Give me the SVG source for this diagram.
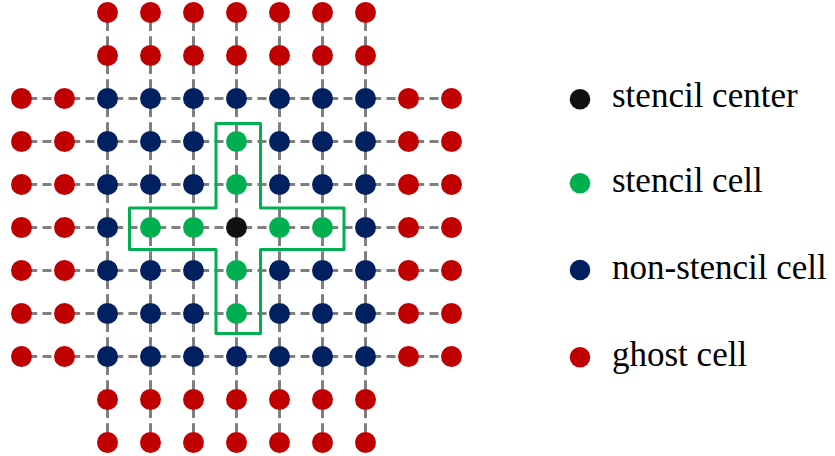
<svg xmlns="http://www.w3.org/2000/svg" width="835" height="456" viewBox="0 0 835 456">
  <rect width="835" height="456" fill="#ffffff"/>

  <!-- dashed grid connectors -->
  <g id="connectors" stroke="#7f7f7f" stroke-width="3" fill="none" stroke-dasharray="9 5.333">
    <g stroke-dashoffset="7.67">
      <line x1="21.5" y1="98.5" x2="451.5" y2="98.5"/>
      <line x1="21.5" y1="141.5" x2="451.5" y2="141.5"/>
      <line x1="21.5" y1="184.5" x2="451.5" y2="184.5"/>
      <line x1="21.5" y1="227.5" x2="451.5" y2="227.5"/>
      <line x1="21.5" y1="270.5" x2="451.5" y2="270.5"/>
      <line x1="21.5" y1="313.5" x2="451.5" y2="313.5"/>
      <line x1="21.5" y1="356.5" x2="451.5" y2="356.5"/>
    </g>
    <g stroke-dashoffset="4.83">
      <line x1="107.5" y1="12.5" x2="107.5" y2="442.5"/>
      <line x1="150.5" y1="12.5" x2="150.5" y2="442.5"/>
      <line x1="193.5" y1="12.5" x2="193.5" y2="442.5"/>
      <line x1="236.5" y1="12.5" x2="236.5" y2="442.5"/>
      <line x1="279.5" y1="12.5" x2="279.5" y2="442.5"/>
      <line x1="322.5" y1="12.5" x2="322.5" y2="442.5"/>
      <line x1="365.5" y1="12.5" x2="365.5" y2="442.5"/>
    </g>
  </g>

  <!-- cross-shaped stencil outline -->
  <path id="stencil-outline" fill="none" stroke="#00b050" stroke-width="3" stroke-linejoin="round" d="M216,123.5 H260.5 V208 H344 V249.5 H260.5 V333.5 H216 V249.5 H129.5 V208 H216 Z"/>

  <!-- ghost cells: top and bottom bands, then left and right bands -->
  <g id="ghost-cells" fill="#c00000">
    <circle id="g-0-2" cx="107.5" cy="12.5" r="10.5"/>
    <circle id="g-0-3" cx="150.5" cy="12.5" r="10.5"/>
    <circle id="g-0-4" cx="193.5" cy="12.5" r="10.5"/>
    <circle id="g-0-5" cx="236.5" cy="12.5" r="10.5"/>
    <circle id="g-0-6" cx="279.5" cy="12.5" r="10.5"/>
    <circle id="g-0-7" cx="322.5" cy="12.5" r="10.5"/>
    <circle id="g-0-8" cx="365.5" cy="12.5" r="10.5"/>
    <circle id="g-1-2" cx="107.5" cy="55.5" r="10.5"/>
    <circle id="g-1-3" cx="150.5" cy="55.5" r="10.5"/>
    <circle id="g-1-4" cx="193.5" cy="55.5" r="10.5"/>
    <circle id="g-1-5" cx="236.5" cy="55.5" r="10.5"/>
    <circle id="g-1-6" cx="279.5" cy="55.5" r="10.5"/>
    <circle id="g-1-7" cx="322.5" cy="55.5" r="10.5"/>
    <circle id="g-1-8" cx="365.5" cy="55.5" r="10.5"/>
    <circle id="g-9-2" cx="107.5" cy="399.5" r="10.5"/>
    <circle id="g-9-3" cx="150.5" cy="399.5" r="10.5"/>
    <circle id="g-9-4" cx="193.5" cy="399.5" r="10.5"/>
    <circle id="g-9-5" cx="236.5" cy="399.5" r="10.5"/>
    <circle id="g-9-6" cx="279.5" cy="399.5" r="10.5"/>
    <circle id="g-9-7" cx="322.5" cy="399.5" r="10.5"/>
    <circle id="g-9-8" cx="365.5" cy="399.5" r="10.5"/>
    <circle id="g-10-2" cx="107.5" cy="442.5" r="10.5"/>
    <circle id="g-10-3" cx="150.5" cy="442.5" r="10.5"/>
    <circle id="g-10-4" cx="193.5" cy="442.5" r="10.5"/>
    <circle id="g-10-5" cx="236.5" cy="442.5" r="10.5"/>
    <circle id="g-10-6" cx="279.5" cy="442.5" r="10.5"/>
    <circle id="g-10-7" cx="322.5" cy="442.5" r="10.5"/>
    <circle id="g-10-8" cx="365.5" cy="442.5" r="10.5"/>
    <circle id="g-2-0" cx="21.5" cy="98.5" r="10.5"/>
    <circle id="g-3-0" cx="21.5" cy="141.5" r="10.5"/>
    <circle id="g-4-0" cx="21.5" cy="184.5" r="10.5"/>
    <circle id="g-5-0" cx="21.5" cy="227.5" r="10.5"/>
    <circle id="g-6-0" cx="21.5" cy="270.5" r="10.5"/>
    <circle id="g-7-0" cx="21.5" cy="313.5" r="10.5"/>
    <circle id="g-8-0" cx="21.5" cy="356.5" r="10.5"/>
    <circle id="g-2-1" cx="64.5" cy="98.5" r="10.5"/>
    <circle id="g-3-1" cx="64.5" cy="141.5" r="10.5"/>
    <circle id="g-4-1" cx="64.5" cy="184.5" r="10.5"/>
    <circle id="g-5-1" cx="64.5" cy="227.5" r="10.5"/>
    <circle id="g-6-1" cx="64.5" cy="270.5" r="10.5"/>
    <circle id="g-7-1" cx="64.5" cy="313.5" r="10.5"/>
    <circle id="g-8-1" cx="64.5" cy="356.5" r="10.5"/>
    <circle id="g-2-9" cx="408.5" cy="98.5" r="10.5"/>
    <circle id="g-3-9" cx="408.5" cy="141.5" r="10.5"/>
    <circle id="g-4-9" cx="408.5" cy="184.5" r="10.5"/>
    <circle id="g-5-9" cx="408.5" cy="227.5" r="10.5"/>
    <circle id="g-6-9" cx="408.5" cy="270.5" r="10.5"/>
    <circle id="g-7-9" cx="408.5" cy="313.5" r="10.5"/>
    <circle id="g-8-9" cx="408.5" cy="356.5" r="10.5"/>
    <circle id="g-2-10" cx="451.5" cy="98.5" r="10.5"/>
    <circle id="g-3-10" cx="451.5" cy="141.5" r="10.5"/>
    <circle id="g-4-10" cx="451.5" cy="184.5" r="10.5"/>
    <circle id="g-5-10" cx="451.5" cy="227.5" r="10.5"/>
    <circle id="g-6-10" cx="451.5" cy="270.5" r="10.5"/>
    <circle id="g-7-10" cx="451.5" cy="313.5" r="10.5"/>
    <circle id="g-8-10" cx="451.5" cy="356.5" r="10.5"/>
  </g>

  <!-- interior non-stencil cells -->
  <g id="non-stencil-cells" fill="#002060">
    <circle id="n-2-2" cx="107.5" cy="98.5" r="10.5"/>
    <circle id="n-2-3" cx="150.5" cy="98.5" r="10.5"/>
    <circle id="n-2-4" cx="193.5" cy="98.5" r="10.5"/>
    <circle id="n-2-5" cx="236.5" cy="98.5" r="10.5"/>
    <circle id="n-2-6" cx="279.5" cy="98.5" r="10.5"/>
    <circle id="n-2-7" cx="322.5" cy="98.5" r="10.5"/>
    <circle id="n-2-8" cx="365.5" cy="98.5" r="10.5"/>
    <circle id="n-3-2" cx="107.5" cy="141.5" r="10.5"/>
    <circle id="n-3-3" cx="150.5" cy="141.5" r="10.5"/>
    <circle id="n-3-4" cx="193.5" cy="141.5" r="10.5"/>
    <circle id="n-3-6" cx="279.5" cy="141.5" r="10.5"/>
    <circle id="n-3-7" cx="322.5" cy="141.5" r="10.5"/>
    <circle id="n-3-8" cx="365.5" cy="141.5" r="10.5"/>
    <circle id="n-4-2" cx="107.5" cy="184.5" r="10.5"/>
    <circle id="n-4-3" cx="150.5" cy="184.5" r="10.5"/>
    <circle id="n-4-4" cx="193.5" cy="184.5" r="10.5"/>
    <circle id="n-4-6" cx="279.5" cy="184.5" r="10.5"/>
    <circle id="n-4-7" cx="322.5" cy="184.5" r="10.5"/>
    <circle id="n-4-8" cx="365.5" cy="184.5" r="10.5"/>
    <circle id="n-5-2" cx="107.5" cy="227.5" r="10.5"/>
    <circle id="n-5-8" cx="365.5" cy="227.5" r="10.5"/>
    <circle id="n-6-2" cx="107.5" cy="270.5" r="10.5"/>
    <circle id="n-6-3" cx="150.5" cy="270.5" r="10.5"/>
    <circle id="n-6-4" cx="193.5" cy="270.5" r="10.5"/>
    <circle id="n-6-6" cx="279.5" cy="270.5" r="10.5"/>
    <circle id="n-6-7" cx="322.5" cy="270.5" r="10.5"/>
    <circle id="n-6-8" cx="365.5" cy="270.5" r="10.5"/>
    <circle id="n-7-2" cx="107.5" cy="313.5" r="10.5"/>
    <circle id="n-7-3" cx="150.5" cy="313.5" r="10.5"/>
    <circle id="n-7-4" cx="193.5" cy="313.5" r="10.5"/>
    <circle id="n-7-6" cx="279.5" cy="313.5" r="10.5"/>
    <circle id="n-7-7" cx="322.5" cy="313.5" r="10.5"/>
    <circle id="n-7-8" cx="365.5" cy="313.5" r="10.5"/>
    <circle id="n-8-2" cx="107.5" cy="356.5" r="10.5"/>
    <circle id="n-8-3" cx="150.5" cy="356.5" r="10.5"/>
    <circle id="n-8-4" cx="193.5" cy="356.5" r="10.5"/>
    <circle id="n-8-5" cx="236.5" cy="356.5" r="10.5"/>
    <circle id="n-8-6" cx="279.5" cy="356.5" r="10.5"/>
    <circle id="n-8-7" cx="322.5" cy="356.5" r="10.5"/>
    <circle id="n-8-8" cx="365.5" cy="356.5" r="10.5"/>
  </g>

  <!-- stencil arms -->
  <g id="stencil-cells" fill="#00b050">
    <circle id="s-3-5" cx="236.5" cy="141.5" r="10.5"/>
    <circle id="s-4-5" cx="236.5" cy="184.5" r="10.5"/>
    <circle id="s-6-5" cx="236.5" cy="270.5" r="10.5"/>
    <circle id="s-7-5" cx="236.5" cy="313.5" r="10.5"/>
    <circle id="s-5-3" cx="150.5" cy="227.5" r="10.5"/>
    <circle id="s-5-4" cx="193.5" cy="227.5" r="10.5"/>
    <circle id="s-5-6" cx="279.5" cy="227.5" r="10.5"/>
    <circle id="s-5-7" cx="322.5" cy="227.5" r="10.5"/>
  </g>

  <!-- stencil center -->
  <g id="stencil-center" fill="#111111">
    <circle cx="236.5" cy="227.5" r="10.5"/>
  </g>

  <!-- legend -->
  <g id="legend">
    <circle fill="#111111" cx="580" cy="99.3" r="10.3"/>
    <circle fill="#00b050" cx="580" cy="183.3" r="10.3"/>
    <circle fill="#002060" cx="580" cy="270" r="10.3"/>
    <circle fill="#c00000" cx="580" cy="357.3" r="10.3"/>
  </g>
  <text x="612" y="107" font-size="35" font-family="Liberation Serif">stencil center</text>
  <text x="612" y="191.5" font-size="35" font-family="Liberation Serif">stencil cell</text>
  <text x="612" y="278.5" font-size="35" font-family="Liberation Serif">non-stencil cell</text>
  <text x="612" y="366" font-size="35" font-family="Liberation Serif">ghost cell</text>
</svg>
